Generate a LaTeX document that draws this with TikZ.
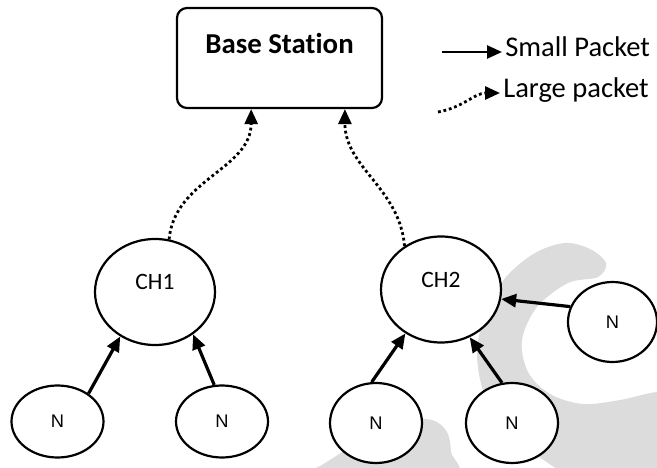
\documentclass[tikz,border=0pt]{standalone}
\usepackage{fontspec}
\setmainfont{Carlito}[Ligatures=NoCommon]
\newfontfamily\sensorfont{Liberation Sans}
\usetikzlibrary{shapes.geometric,arrows.meta}
\definecolor{wsnline}{HTML}{000000}
\definecolor{wsnmark}{HTML}{DCDCDC}

\begin{document}
\begin{tikzpicture}[x=0.25mm, y=0.25mm,
    station/.style={rectangle, rounded corners=2.5mm, draw=wsnline, line width=0.55mm,
      minimum width=51.25mm, minimum height=25mm},
    cluster/.style={ellipse, draw=wsnline, fill=white, line width=0.55mm,
      minimum width=30mm, minimum height=26.5mm, inner sep=0pt},
    sensor/.style={ellipse, draw=wsnline, fill=white, line width=0.55mm,
      minimum width=23mm, minimum height=20mm, inner sep=0pt,
      font=\sensorfont\fontsize{13}{15}\selectfont},
    bsname/.style={font=\bfseries\fontsize{20.5}{24}\selectfont, yshift=3.75mm},
    chname/.style={font=\fontsize{16.7}{19}\selectfont, yshift=2.5mm},
    lgd/.style={anchor=west, inner sep=0.75mm, font=\fontsize{20.3}{24}\selectfont,
      text height=0.64em, text depth=0pt},
    smallpkt/.style={line width=0.8mm, -{Triangle[length=3.75mm,width=3.25mm]}},
    largepkt/.style={line width=0.7mm, dash pattern=on 0.7mm off 0.7mm,
      -{Triangle[length=3.75mm,width=3.25mm]}},
  ]
  \useasboundingbox (0,0) rectangle (657,467);

  % watermark behind the network
  \begin{scope}
    \clip (0,0) rectangle (657,467);
    \fill[wsnmark] plot[smooth cycle, tension=0.55] coordinates {
      (606,204) (590,218) (565,224) (535,214) (506,190) (487,157) (477,117)
      (484,74) (508,36) (545,6) (600,-25) (680,-40) (700,30) (690,74)
      (657,75) (620,67) (583,63) (550,73) (528,95) (522,127) (537,160)
      (568,184) (598,190)};
    \fill[wsnmark] plot[smooth cycle, tension=0.55] coordinates {
      (305,-10) (322,2) (360,25) (405,45) (432,47) (447,35) (451,15) (450,-10)};
  \end{scope}

  \node[station, label={[bsname]center:Base Station}] (bs) at (279.5,409) {};

  \node[cluster, label={[chname]center:CH1}] (ch1) at (155,175) {};
  \node[cluster, label={[chname]center:CH2}] (ch2) at (441,177.5) {};

  \node[sensor, minimum height=18mm] (n1) at (57.5,45.5) {N};
  \node[sensor, minimum height=18mm] (n2) at (222,45.5) {N};
  \node[sensor] (n3) at (376,44) {N};
  \node[sensor] (n4) at (512,44) {N};
  \node[sensor, minimum width=22.25mm] (n5) at (612.5,145) {N};

  \draw[smallpkt] (n1.42) -- (ch1.232);
  \draw[smallpkt] (n2.102) -- (ch1.312);
  \draw[smallpkt] (n3.96) -- (ch2.231);
  \draw[smallpkt] (n4.104) -- (ch2.301);
  \draw[smallpkt] (n5.160) -- (ch2.351);

  \draw[largepkt] (ch1.75) to[out=85, in=-90] (bs.241);
  \draw[largepkt] (ch2.130) to[out=95, in=-90] (bs.322);

  % legend
  \node[lgd] (smalltxt) at (502,415) {Small Packet};
  \node[lgd] (largetxt) at (500,374) {Large packet};
  \coordinate (smallfrom) at (442,415);
  \coordinate (largefrom) at (438,355);
  \draw[smallpkt, line width=0.65mm] (smallfrom) -- (smalltxt.west);
  \draw[largepkt] (largefrom) to[out=10, in=180] (largetxt.west);
\end{tikzpicture}
\end{document}
